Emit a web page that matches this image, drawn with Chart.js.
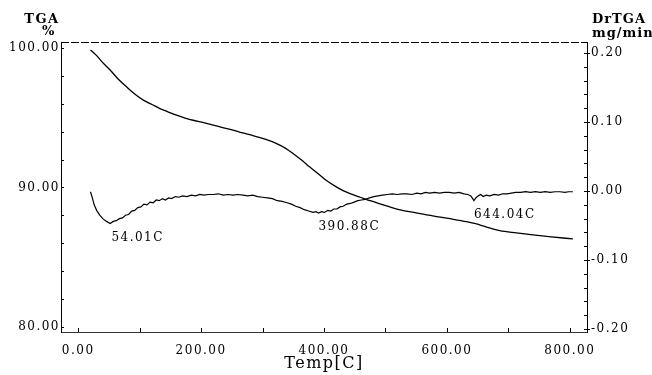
<!DOCTYPE html>
<html>
<head>
<meta charset="utf-8">
<script src="https://cdn.jsdelivr.net/npm/chart.js@4"></script>
<style>
  body { margin: 0; background: #fff; }
  canvas { display: block; }
</style>
</head>
<body>
<canvas id="tga" width="652" height="375"></canvas>
<script>
// TGA curve: temperature [C] vs mass [%]
const tgaTemp = [20, 30, 40, 52, 65, 79, 92, 106, 120, 133, 147, 160, 174, 187, 201, 215, 228, 242, 255, 268,
  282, 296, 310, 323, 337, 350, 364, 377, 391, 404, 418, 431, 445, 459, 475, 495, 524, 550, 577, 605,
  632, 645, 659, 672, 686, 713, 740, 770, 805];
const tgaMass = [99.86, 99.45, 98.95, 98.42, 97.78, 97.2, 96.7, 96.26, 95.95, 95.66, 95.41, 95.18, 94.98, 94.82, 94.68, 94.53, 94.38, 94.22, 94.07, 93.91,
  93.75, 93.58, 93.38, 93.14, 92.82, 92.42, 91.95, 91.46, 90.97, 90.5, 90.1, 89.78, 89.52, 89.3, 89.05, 88.78, 88.39, 88.18, 87.96, 87.76,
  87.55, 87.42, 87.24, 87.06, 86.9, 86.74, 86.6, 86.46, 86.31];

// DrTGA curve: temperature [C] vs rate [mg/min]
const dtgTemp = [20, 23, 26, 30, 35, 40, 46, 52, 57, 62, 67, 72, 77, 82, 87, 92, 97, 102, 107, 112,
  117, 122, 127, 132, 137, 142, 147, 152, 158, 164, 170, 177, 184, 191, 198, 205, 212, 220, 228, 236,
  244, 252, 260, 268, 276, 284, 292, 300, 308, 316, 324, 332, 340, 347, 354, 361, 368, 375, 382, 387,
  391, 396, 401, 406, 411, 416, 421, 426, 431, 437, 443, 449, 455, 461, 467, 474, 481, 488, 495, 503,
  511, 519, 527, 535, 543, 551, 558, 565, 572, 580, 588, 596, 604, 612, 620, 628, 634, 639, 642, 644,
  647, 651, 655, 659, 664, 670, 677, 684, 691, 698, 705, 712, 720, 728, 736, 744, 752, 760, 768, 776,
  784, 792, 798, 805];
const dtgRate = [-0.001, -0.010, -0.020, -0.028, -0.035, -0.040, -0.044, -0.047, -0.044, -0.043, -0.040, -0.039, -0.035, -0.034, -0.029, -0.028, -0.024, -0.023, -0.019, -0.020,
  -0.016, -0.017, -0.013, -0.014, -0.011, -0.013, -0.010, -0.011, -0.008, -0.009, -0.007, -0.008, -0.006, -0.007, -0.005, -0.006, -0.005, -0.005, -0.004, -0.006,
  -0.005, -0.006, -0.005, -0.006, -0.007, -0.006, -0.008, -0.009, -0.010, -0.011, -0.014, -0.015, -0.017, -0.019, -0.022, -0.024, -0.027, -0.029, -0.031, -0.030,
  -0.032, -0.030, -0.031, -0.028, -0.029, -0.026, -0.026, -0.023, -0.022, -0.019, -0.018, -0.016, -0.014, -0.013, -0.012, -0.010, -0.008, -0.007, -0.006, -0.005,
  -0.004, -0.005, -0.004, -0.004, -0.005, -0.003, -0.004, -0.002, -0.003, -0.002, -0.003, -0.002, -0.002, -0.003, -0.002, -0.004, -0.005, -0.007, -0.011, -0.014,
  -0.010, -0.007, -0.005, -0.008, -0.006, -0.007, -0.005, -0.006, -0.004, -0.004, -0.003, -0.002, -0.002, -0.001, -0.002, -0.001, -0.002, -0.001, -0.002, -0.001,
  -0.001, -0.002, -0.001, -0.001];

const tempTicks = [0, 200, 400, 600, 800];
const massTicks = [80, 90, 100];
const rateTicks = [-0.2, -0.1, 0, 0.1, 0.2];
const peakTemps = [54.01, 390.88, 644.04];

const tickFont = { family: 'DejaVu Serif', size: 12 };

function points(xs, ys) {
  return xs.map((t, i) => ({ x: t, y: ys[i] }));
}

function strokeLine(ctx, x1, y1, x2, y2) {
  ctx.beginPath();
  ctx.moveTo(x1, y1);
  ctx.lineTo(x2, y2);
  ctx.stroke();
}

// frame, inward ticks, peak labels and the unit titles above the axes
const decor = {
  id: 'decor',
  beforeDraw(chart) {
    chart.ctx.letterSpacing = '1.5px';
  },
  afterDraw(chart) {
    const { ctx, chartArea: a, scales: { x, y, y2 } } = chart;
    ctx.save();
    ctx.strokeStyle = '#000';
    ctx.lineWidth = 1;

    ctx.setLineDash([8, 2]);
    strokeLine(ctx, a.left, a.top + 0.5, a.right, a.top + 0.5);
    ctx.setLineDash([]);

    for (let i = 0; i <= 10; i++) {
      const py = Math.round(y.getPixelForValue(80 + i * 2)) + 0.5;
      strokeLine(ctx, a.left, py, a.left + 3, py);
    }
    for (let i = 0; i <= 20; i++) {
      const py = Math.round(y2.getPixelForValue(-0.2 + i * 0.02)) + 0.5;
      strokeLine(ctx, a.right - 3, py, a.right, py);
      if (i % 5 === 0) strokeLine(ctx, a.right, py, a.right + 3, py);
    }
    for (let i = 0; i <= 8; i++) {
      const px = Math.round(x.getPixelForValue(i * 100)) + 0.5;
      strokeLine(ctx, px, a.bottom, px, a.bottom - 4);
    }

    ctx.fillStyle = '#000';
    ctx.textBaseline = 'middle';
    ctx.font = '12px "DejaVu Serif"';
    ctx.letterSpacing = '1.5px';
    ctx.textAlign = 'left';
    peakTemps.forEach(t => {
      let k = 0;
      dtgTemp.forEach((v, i) => { if (Math.abs(v - t) < Math.abs(dtgTemp[k] - t)) k = i; });
      const px = x.getPixelForValue(t);
      const py = y2.getPixelForValue(dtgRate[k]) + 14;
      ctx.fillText(t.toFixed(2) + 'C', px, py);
    });

    ctx.font = 'bold 13px "DejaVu Serif"';
    ctx.letterSpacing = '1.5px';
    ctx.textAlign = 'center';
    ctx.fillText('TGA', 42, 20);
    ctx.fillText('%', 49, 32);
    ctx.textAlign = 'left';
    ctx.letterSpacing = '1px';
    ctx.fillText('DrTGA', 592, 20);
    ctx.fillText('mg/min', 592, 34);
    ctx.restore();
  }
};

new Chart(document.getElementById('tga'), {
  type: 'line',
  data: {
    datasets: [{
      label: 'TGA',
      data: points(tgaTemp, tgaMass),
      yAxisID: 'y',
      borderColor: '#000',
      borderWidth: 1.3,
      pointRadius: 0,
      cubicInterpolationMode: 'monotone',
    }, {
      label: 'DrTGA',
      data: points(dtgTemp, dtgRate),
      yAxisID: 'y2',
      borderColor: '#000',
      borderWidth: 1.2,
      pointRadius: 0,
    }],
  },
  options: {
    responsive: false,
    animation: false,
    devicePixelRatio: 1,
    layout: { padding: { top: 42, left: 0, right: 0, bottom: 0 } },
    plugins: {
      legend: { display: false },
      tooltip: { enabled: false },
    },
    scales: {
      x: {
        type: 'linear',
        min: -28,
        max: 828,
        afterBuildTicks: s => { s.ticks = tempTicks.map(v => ({ value: v })); },
        afterFit: s => { s.height = 43; },
        grid: { drawOnChartArea: false, drawTicks: false },
        border: { color: '#333', width: 1, dash: [4, 2] },
        ticks: {
          color: '#000', font: tickFont, padding: 12, maxRotation: 0,
          callback: v => v.toFixed(2),
        },
        title: {
          display: true, text: 'Temp[C]', color: '#000',
          font: { family: 'DejaVu Serif', size: 16 },
          padding: { top: 0, bottom: 2 },
        },
      },
      y: {
        position: 'left',
        min: 79.64,
        max: 100.43,
        afterBuildTicks: s => { s.ticks = massTicks.map(v => ({ value: v })); },
        afterFit: s => { s.width = 61; },
        grid: { drawOnChartArea: false, drawTicks: false },
        border: { color: '#000', width: 1 },
        ticks: { color: '#000', font: tickFont, padding: 1, callback: v => v.toFixed(2) },
      },
      y2: {
        position: 'right',
        min: -0.2043,
        max: 0.216,
        afterBuildTicks: s => { s.ticks = rateTicks.map(v => ({ value: v })); },
        afterFit: s => { s.width = 65; },
        grid: { drawOnChartArea: false, drawTicks: false },
        border: { color: '#000', width: 1 },
        ticks: { color: '#000', font: tickFont, padding: 4, callback: v => v.toFixed(2) },
      },
    },
  },
  plugins: [decor],
});
</script>
</body>
</html>
